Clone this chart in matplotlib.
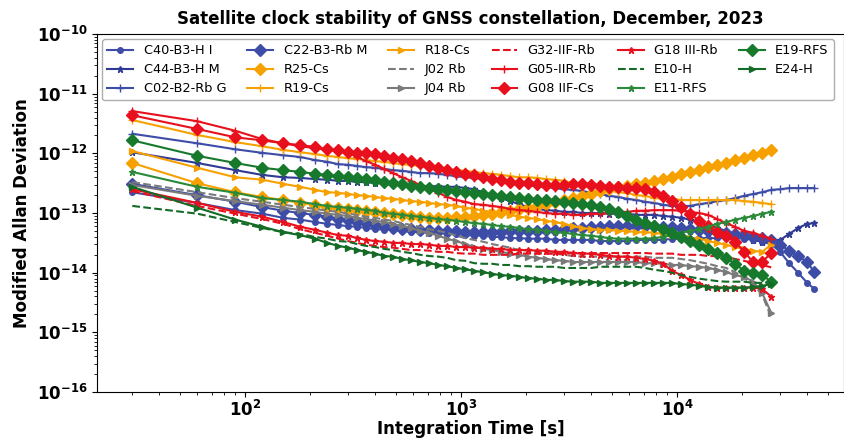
import numpy as np
import matplotlib
matplotlib.use("Agg")
import matplotlib.pyplot as plt

# integration times [s]
taus = [30, 60, 90, 120, 150, 180, 210, 240, 270, 300, 330,
        363, 400, 440, 484, 533, 587, 646, 711, 783, 862,
        949, 1044, 1150, 1265, 1393, 1533, 1687, 1857, 2044, 2250,
        2477, 2726, 3001, 3303, 3636, 4002, 4405, 4849, 5337, 5875,
        6466, 7117, 7834, 8623, 9491, 10447, 11499, 12657, 13931, 15334,
        16878, 18578, 20449, 22508, 24775, 27270,
        30016, 33040, 36368, 40030, 43200]

# log10 of modified Allan deviation
c40 = [-12.65, -12.83, -12.95, -13.01, -13.08, -13.11, -13.15, -13.18, -13.20, -13.22,
       -13.23, -13.25, -13.27, -13.28, -13.28, -13.30, -13.32, -13.32, -13.33, -13.33,
       -13.35, -13.35, -13.37, -13.38, -13.38, -13.40, -13.40, -13.42, -13.42, -13.43,
       -13.43, -13.43, -13.45, -13.45, -13.45, -13.45, -13.45, -13.47, -13.47, -13.47,
       -13.47, -13.45, -13.45, -13.45, -13.45, -13.43, -13.43, -13.43, -13.42, -13.42,
       -13.42, -13.42, -13.42, -13.43, -13.45, -13.48, -13.52, -13.65, -13.84, -14.00,
       -14.17, -14.27]
c44 = [-11.98, -12.16, -12.28, -12.36, -12.40, -12.41, -12.43, -12.44, -12.46, -12.46,
       -12.48, -12.48, -12.50, -12.50, -12.51, -12.53, -12.53, -12.55, -12.55, -12.55,
       -12.56, -12.56, -12.58, -12.60, -12.65, -12.70, -12.75, -12.80, -12.85, -12.90,
       -12.93, -12.95, -12.96, -12.98, -12.98, -13.00, -13.00, -13.00, -13.01, -13.01,
       -13.01, -13.03, -13.03, -13.03, -13.05, -13.06, -13.08, -13.11, -13.15, -13.20,
       -13.25, -13.30, -13.35, -13.40, -13.45, -13.48, -13.50, -13.45, -13.35, -13.25,
       -13.18, -13.17]
c02 = [-11.67, -11.83, -11.93, -11.99, -12.03, -12.06, -12.11, -12.14, -12.18, -12.19,
       -12.21, -12.23, -12.24, -12.26, -12.28, -12.29, -12.31, -12.33, -12.33, -12.34,
       -12.36, -12.38, -12.40, -12.41, -12.43, -12.44, -12.46, -12.50, -12.51, -12.53,
       -12.55, -12.56, -12.58, -12.60, -12.61, -12.63, -12.66, -12.68, -12.71, -12.73,
       -12.76, -12.78, -12.81, -12.83, -12.86, -12.88, -12.88, -12.88, -12.85, -12.83,
       -12.80, -12.78, -12.75, -12.71, -12.68, -12.65, -12.61, -12.60, -12.58, -12.58,
       -12.58, -12.58]
c22 = [-12.51, -12.70, -12.81, -12.90, -12.96, -13.00, -13.03, -13.06, -13.10, -13.11,
       -13.15, -13.17, -13.20, -13.22, -13.25, -13.27, -13.27, -13.28, -13.28, -13.30,
       -13.30, -13.30, -13.32, -13.32, -13.32, -13.32, -13.32, -13.30, -13.30, -13.30,
       -13.30, -13.28, -13.28, -13.27, -13.25, -13.25, -13.23, -13.23, -13.22, -13.22,
       -13.22, -13.22, -13.22, -13.22, -13.23, -13.23, -13.25, -13.27, -13.28, -13.30,
       -13.32, -13.33, -13.35, -13.37, -13.40, -13.42, -13.45, -13.53, -13.63, -13.72,
       -13.82, -13.99]
r25 = [-12.16, -12.50, -12.65, -12.73, -12.78, -12.83, -12.86, -12.90, -12.91, -12.93,
       -12.95, -12.96, -12.98, -13.00, -13.01, -13.03, -13.05, -13.06, -13.08, -13.08,
       -13.08, -13.06, -13.06, -13.05, -13.03, -13.01, -12.98, -12.96, -12.93, -12.91,
       -12.88, -12.85, -12.81, -12.78, -12.75, -12.71, -12.68, -12.63, -12.60, -12.56,
       -12.55, -12.51, -12.50, -12.46, -12.43, -12.40, -12.34, -12.31, -12.28, -12.23,
       -12.19, -12.16, -12.11, -12.08, -12.03, -11.99, -11.94]
r19 = [-11.44, -11.69, -11.81, -11.88, -11.94, -11.98, -12.01, -12.04, -12.06, -12.08,
       -12.09, -12.11, -12.13, -12.14, -12.16, -12.18, -12.19, -12.21, -12.23, -12.24,
       -12.26, -12.28, -12.29, -12.31, -12.33, -12.34, -12.36, -12.38, -12.40, -12.40,
       -12.41, -12.43, -12.44, -12.46, -12.50, -12.51, -12.55, -12.58, -12.61, -12.65,
       -12.66, -12.70, -12.71, -12.75, -12.75, -12.76, -12.78, -12.78, -12.78, -12.78,
       -12.78, -12.78, -12.78, -12.80, -12.81, -12.83, -12.85]
r18 = [-11.96, -12.24, -12.40, -12.44, -12.51, -12.56, -12.61, -12.65, -12.66, -12.68,
       -12.70, -12.71, -12.73, -12.75, -12.76, -12.78, -12.80, -12.81, -12.83, -12.85,
       -12.86, -12.88, -12.91, -12.93, -12.96, -12.98, -13.01, -13.03, -13.06, -13.08,
       -13.10, -13.13, -13.15, -13.18, -13.22, -13.25, -13.27, -13.28, -13.28, -13.30,
       -13.30, -13.32, -13.32, -13.33, -13.35, -13.37, -13.38, -13.42, -13.43, -13.47,
       -13.50, -13.53, -13.57, -13.60, -13.63, -13.65, -13.53]
j02 = [-12.48, -12.65, -12.75, -12.81, -12.86, -12.90, -12.93, -12.96, -12.98, -13.01,
       -13.03, -13.06, -13.08, -13.11, -13.13, -13.17, -13.20, -13.23, -13.27, -13.30,
       -13.33, -13.38, -13.42, -13.45, -13.48, -13.52, -13.55, -13.58, -13.62, -13.63,
       -13.65, -13.67, -13.68, -13.70, -13.72, -13.73, -13.73, -13.73, -13.73, -13.73,
       -13.73, -13.73, -13.73, -13.75, -13.75, -13.75, -13.77, -13.79, -13.82, -13.85,
       -13.89, -13.92, -13.99, -14.09, -14.20, -14.37, -14.74]
j04 = [-12.53, -12.71, -12.80, -12.86, -12.91, -12.95, -12.98, -13.01, -13.03, -13.05,
       -13.08, -13.10, -13.13, -13.15, -13.18, -13.22, -13.25, -13.30, -13.33, -13.38,
       -13.43, -13.47, -13.52, -13.57, -13.60, -13.62, -13.65, -13.68, -13.70, -13.73,
       -13.75, -13.77, -13.79, -13.80, -13.82, -13.82, -13.82, -13.82, -13.82, -13.82,
       -13.82, -13.82, -13.84, -13.84, -13.85, -13.87, -13.87, -13.89, -13.90, -13.92,
       -13.95, -13.99, -14.04, -14.07, -14.15, -14.34, -14.67]
g32 = [-12.63, -12.88, -13.01, -13.10, -13.18, -13.27, -13.33, -13.38, -13.43, -13.47,
       -13.50, -13.53, -13.55, -13.57, -13.58, -13.60, -13.62, -13.62, -13.63, -13.65,
       -13.65, -13.67, -13.68, -13.68, -13.70, -13.70, -13.70, -13.70, -13.68, -13.68,
       -13.68, -13.68, -13.68, -13.68, -13.67, -13.67, -13.67, -13.67, -13.67, -13.67,
       -13.67, -13.67, -13.67, -13.68, -13.68, -13.68, -13.70, -13.70, -13.70, -13.72,
       -13.72, -13.73, -13.77, -13.80, -13.84, -13.87, -13.91]
g05 = [-11.29, -11.46, -11.62, -11.76, -11.83, -11.88, -11.91, -11.94, -11.96, -11.99,
       -12.06, -12.13, -12.19, -12.26, -12.33, -12.40, -12.46, -12.53, -12.60, -12.66,
       -12.73, -12.78, -12.81, -12.85, -12.86, -12.88, -12.90, -12.93, -12.95, -12.96,
       -12.98, -13.00, -13.01, -13.01, -13.03, -13.03, -13.01, -13.01, -13.00, -12.98,
       -12.98, -12.96, -12.96, -12.95, -12.95, -12.95, -12.96, -12.98, -13.00, -13.03,
       -13.10, -13.17, -13.23, -13.30, -13.33, -13.38, -13.43]
g08 = [-11.36, -11.59, -11.73, -11.78, -11.83, -11.86, -11.89, -11.93, -11.94, -11.98,
       -11.99, -11.99, -12.01, -12.04, -12.08, -12.09, -12.13, -12.16, -12.21, -12.24,
       -12.28, -12.31, -12.34, -12.36, -12.40, -12.43, -12.44, -12.48, -12.50, -12.50,
       -12.51, -12.53, -12.53, -12.53, -12.51, -12.51, -12.53, -12.55, -12.56, -12.56,
       -12.58, -12.58, -12.60, -12.65, -12.71, -12.80, -12.90, -13.01, -13.13, -13.22,
       -13.32, -13.38, -13.48, -13.65, -13.82, -13.82, -13.67]
g18 = [-12.60, -12.83, -12.98, -13.06, -13.15, -13.23, -13.28, -13.33, -13.37, -13.38,
       -13.42, -13.45, -13.47, -13.48, -13.50, -13.50, -13.52, -13.52, -13.53, -13.55,
       -13.55, -13.57, -13.57, -13.58, -13.58, -13.60, -13.60, -13.62, -13.62, -13.62,
       -13.63, -13.63, -13.65, -13.65, -13.67, -13.68, -13.68, -13.70, -13.72, -13.73,
       -13.73, -13.75, -13.77, -13.80, -13.85, -13.97, -14.04, -14.12, -14.19, -14.24,
       -14.25, -14.25, -14.25, -14.25, -14.25, -14.27, -14.40]
e10 = [-12.88, -13.01, -13.15, -13.25, -13.32, -13.35, -13.40, -13.43, -13.47, -13.48,
       -13.52, -13.55, -13.57, -13.60, -13.62, -13.65, -13.67, -13.70, -13.72, -13.73,
       -13.75, -13.79, -13.80, -13.84, -13.85, -13.85, -13.87, -13.87, -13.89, -13.89,
       -13.90, -13.90, -13.90, -13.92, -13.92, -13.92, -13.92, -13.90, -13.90, -13.90,
       -13.90, -13.90, -13.92, -13.95, -13.97, -14.00, -14.04, -14.07, -14.10, -14.12,
       -14.14, -14.15, -14.15, -14.15, -14.17, -14.17, -14.17]
e11 = [-12.31, -12.56, -12.66, -12.75, -12.78, -12.81, -12.85, -12.88, -12.90, -12.91,
       -12.93, -12.95, -12.96, -13.00, -13.01, -13.03, -13.05, -13.06, -13.08, -13.10,
       -13.11, -13.13, -13.15, -13.17, -13.18, -13.20, -13.22, -13.23, -13.25, -13.27,
       -13.28, -13.30, -13.32, -13.33, -13.35, -13.37, -13.38, -13.40, -13.42, -13.43,
       -13.43, -13.43, -13.43, -13.42, -13.40, -13.37, -13.33, -13.30, -13.27, -13.23,
       -13.18, -13.15, -13.11, -13.08, -13.05, -13.01, -12.98]
e19 = [-11.78, -12.04, -12.16, -12.24, -12.28, -12.31, -12.34, -12.36, -12.38, -12.40,
       -12.41, -12.43, -12.44, -12.48, -12.50, -12.51, -12.55, -12.56, -12.58, -12.60,
       -12.61, -12.63, -12.65, -12.66, -12.68, -12.70, -12.71, -12.73, -12.75, -12.76,
       -12.78, -12.78, -12.80, -12.81, -12.83, -12.85, -12.86, -12.90, -12.93, -12.98,
       -13.05, -13.11, -13.17, -13.22, -13.27, -13.33, -13.40, -13.47, -13.53, -13.60,
       -13.67, -13.75, -13.85, -13.97, -14.00, -14.04, -14.15]
e24 = [-12.56, -12.91, -13.11, -13.23, -13.32, -13.37, -13.43, -13.50, -13.55, -13.58,
       -13.62, -13.65, -13.68, -13.72, -13.73, -13.77, -13.79, -13.82, -13.84, -13.87,
       -13.89, -13.92, -13.94, -13.97, -13.99, -14.02, -14.04, -14.05, -14.07, -14.09,
       -14.10, -14.12, -14.12, -14.14, -14.15, -14.15, -14.15, -14.17, -14.17, -14.17,
       -14.17, -14.17, -14.17, -14.17, -14.17, -14.17, -14.19, -14.20, -14.22, -14.24,
       -14.25, -14.25, -14.25, -14.25, -14.24, -14.22, -14.19]

blue = '#3d4ca6'
orange = '#f7a100'
red = '#e8101c'
green = '#17792c'
gray = '#7a7a7a'

# label, data, color, linestyle, marker, markersize
series = [
    ('C40-B3-H I', c40, blue, '-', 'o', 4),
    ('C44-B3-H M', c44, '#2e3a94', '-', '*', 5),
    ('C02-B2-Rb G', c02, blue, '-', '+', 6),
    ('C22-B3-Rb M', c22, blue, '-', 'D', 6),
    ('R25-Cs', r25, orange, '-', 'D', 6),
    ('R19-Cs', r19, orange, '-', '+', 6),
    ('R18-Cs', r18, orange, '-', '>', 5),
    ('J02 Rb', j02, gray, '--', None, 0),
    ('J04 Rb', j04, gray, '-', '>', 5),
    ('G32-IIF-Rb', g32, red, '--', None, 0),
    ('G05-IIR-Rb', g05, red, '-', '+', 6),
    ('G08 IIF-Cs', g08, red, '-', 'D', 6),
    ('G18 III-Rb', g18, red, '-', '*', 5),
    ('E10-H', e10, '#136b26', '--', None, 0),
    ('E11-RFS', e11, '#2a8a3a', '-', '*', 5),
    ('E19-RFS', e19, green, '-', 'D', 6),
    ('E24-H', e24, '#136b26', '-', '>', 5),
]

fig = plt.figure(figsize=(8.44, 4.38), dpi=100)
ax = fig.add_axes([0.115, 0.105, 0.885, 0.817])

for label, vals, col, ls, mk, ms in series:
    x = taus[:len(vals)]
    y = 10 ** np.array(vals)
    ax.plot(x, y, linestyle=ls, marker=mk, markersize=ms, color=col,
            linewidth=1.5, label=label)

ax.set_xscale('log')
ax.set_yscale('log')
ax.set_xticks([1e2, 1e3, 1e4])
ax.set_yticks([1e-16, 1e-15, 1e-14, 1e-13, 1e-12, 1e-11, 1e-10])
ax.set_xlim(20.6, 59300)
ax.set_ylim(1e-16, 1e-10)

ax.set_title('Satellite clock stability of GNSS constellation, December, 2023',
             fontsize=12, fontweight='bold', pad=7)
ax.set_xlabel('Integration Time [s]', fontsize=12, fontweight='bold', labelpad=0)
ax.set_ylabel('Modified Allan Deviation', fontsize=12, fontweight='bold')
for t in ax.get_xticklabels() + ax.get_yticklabels():
    t.set_fontweight('bold')
ax.tick_params(axis='both', which='major', labelsize=12)
ax.tick_params(axis='x', which='major', pad=2)

ax.legend(loc='upper left', ncol=6, fontsize=9.3, frameon=True,
          edgecolor='#999999', borderaxespad=0.4, labelspacing=0.45,
          columnspacing=1.65)

fig.savefig('out.png', dpi=100)
plt.close()
